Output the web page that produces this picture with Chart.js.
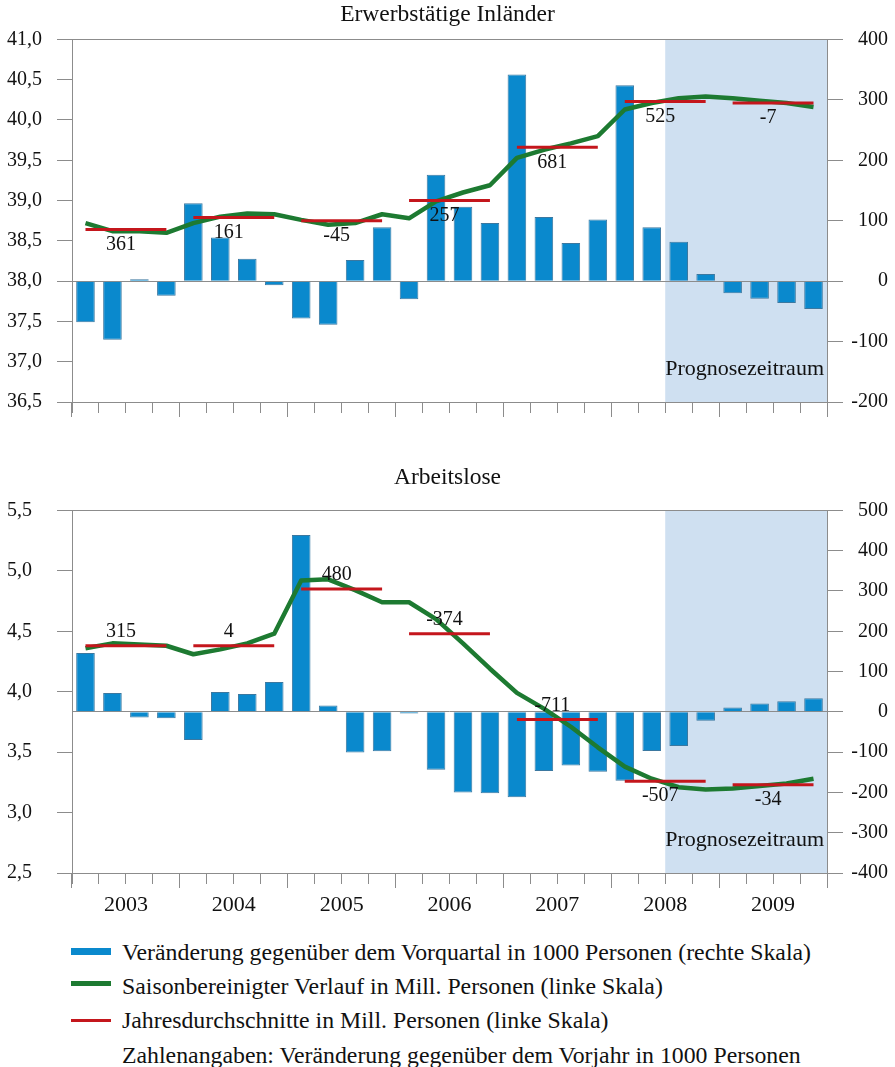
<!DOCTYPE html>
<html lang="de">
<head>
<meta charset="utf-8">
<title>Erwerbstätige und Arbeitslose</title>
<script src="https://cdn.jsdelivr.net/npm/chart.js@4.4.1/dist/chart.umd.min.js"></script>
<style>
  html, body { margin: 0; padding: 0; background: #fff; }
  #wrap { position: relative; width: 895px; height: 1067px; overflow: hidden;
          font-family: "Liberation Serif", "Times New Roman", serif; color: #111; }
  #empChart { position: absolute; left: 0; top: 0; }
  #unempChart { position: absolute; left: 0; top: 460px; }
  .row { position: absolute; left: 122px; font-size: 23.8px; line-height: 26px; white-space: nowrap; }
  .mark { position: absolute; left: 71px; width: 40px; }
</style>
</head>
<body>
<div id="wrap">
  <canvas id="empChart" width="895" height="440"></canvas>
  <canvas id="unempChart" width="895" height="460"></canvas>

  <div class="mark" style="top:948px;height:7px;background:#0a89cd"></div>
  <div class="row" style="top:939px">Veränderung gegenüber dem Vorquartal in 1000 Personen (rechte Skala)</div>
  <div class="mark" style="top:981px;height:5px;background:#1d7a31"></div>
  <div class="row" style="top:973px">Saisonbereinigter Verlauf in Mill. Personen (linke Skala)</div>
  <div class="mark" style="top:1019px;height:3px;background:#c4161c"></div>
  <div class="row" style="top:1007px">Jahresdurchschnitte in Mill. Personen (linke Skala)</div>
  <div class="row" style="top:1042px">Zahlenangaben: Veränderung gegenüber dem Vorjahr in 1000 Personen</div>
</div>
<script>
  // categories
  const years = ['2003', '2004', '2005', '2006', '2007', '2008', '2009']
  const quarters = years.flatMap((y) => ['I', 'II', 'III', 'IV'].map((q) => q + '/' + y))
  const forecastStart = 'III/2008'

  // Erwerbstätige Inländer
  const empChange = [-68, -97, 3, -24, 129, 72, 37, -7, -62, -72, 35, 89, -30, 176,
                     123, 96, 342, 106, 63, 102, 324, 89, 65, 12, -20, -29, -36, -46]
  const empTrend = [38.72, 38.62, 38.62, 38.60, 38.72, 38.80, 38.84, 38.83, 38.76, 38.70,
                    38.72, 38.83, 38.78, 38.99, 39.10, 39.19, 39.53, 39.63, 39.71, 39.80,
                    40.13, 40.21, 40.27, 40.29, 40.27, 40.24, 40.21, 40.16]
  const empAnnual = [38.64, 38.79, 38.75, 39.00, 39.66, 40.23, 40.21]
  const empYoY = [361, 161, -45, 257, 681, 525, -7]

  // Arbeitslose
  const unempChange = [146, 47, -14, -16, -70, 49, 44, 74, 439, 16, -101, -98, -4, -144,
                       -200, -202, -212, -147, -133, -149, -171, -97, -85, -22, 11, 21, 26, 34]
  const unempTrend = [4.36, 4.40, 4.39, 4.38, 4.31, 4.35, 4.40, 4.48, 4.92, 4.93,
                      4.84, 4.74, 4.74, 4.60, 4.40, 4.19, 3.99, 3.86, 3.71, 3.54,
                      3.38, 3.28, 3.21, 3.19, 3.20, 3.22, 3.24, 3.28]
  const unempAnnual = [4.38, 4.38, 4.85, 4.48, 3.77, 3.26, 3.23]
  const unempYoY = [315, 4, 480, -374, -711, -507, -34]

  const AXIS = '#8c8c8c'
  const BLUE = '#0a89cd'
  const GREEN = '#1d7a31'
  const RED = '#c4161c'
  const SERIF = '"Liberation Serif", "Times New Roman", serif'
  const NONE = 'rgba(0,0,0,0)'

  // annual value repeated on the four quarters of its year
  const perQuarter = (annual) => quarters.map((q, i) => annual[Math.floor(i / 4)])

  // shading of the forecast period, year-over-year labels
  const panelDecor = {
    id: 'panelDecor',
    beforeDraw(chart, args, opts) {
      const { ctx, chartArea, scales } = chart
      const x = scales.x
      const half = (x.getPixelForValue(1) - x.getPixelForValue(0)) / 2
      const x0 = x.getPixelForValue(quarters.indexOf(forecastStart)) - half
      ctx.save()
      ctx.fillStyle = '#cfe0f1'
      ctx.fillRect(x0, chartArea.top, chartArea.right - x0, chartArea.bottom - chartArea.top)
      ctx.restore()
    },
    afterDatasetsDraw(chart, args, opts) {
      const { ctx, chartArea, scales } = chart
      const x = scales.x, yL = scales.yL
      ctx.save()
      ctx.fillStyle = '#111'
      ctx.textBaseline = 'middle'
      ctx.font = '22px ' + SERIF
      ctx.textAlign = 'right'
      ctx.fillText('Prognosezeitraum', chartArea.right - 3, chartArea.bottom - 33)
      ctx.font = '20px ' + SERIF
      ctx.textAlign = 'center'
      opts.yoy.forEach((v, k) => {
        const cx = (x.getPixelForValue(4 * k + 1) + x.getPixelForValue(4 * k + 2)) / 2 - 5
        const cy = yL.getPixelForValue(opts.annual[k]) + (opts.below[k] ? 15 : -14)
        ctx.fillText(String(v), cx, cy)
      })
      ctx.restore()
    }
  }

  function makePanel(id, p) {
    const ctx = document.getElementById(id).getContext('2d')
    // eslint-disable-next-line no-undef
    return new Chart(ctx, {
      type: 'bar',
      data: {
        labels: quarters,
        datasets: [
          { type: 'line', label: 'Jahresdurchschnitte', data: perQuarter(p.annual), yAxisID: 'yL', xAxisID: 'x',
            borderColor: RED, borderWidth: 3, pointRadius: 0, tension: 0,
            segment: { borderColor: (c) => Math.floor(c.p0DataIndex / 4) !== Math.floor(c.p1DataIndex / 4) ? NONE : RED } },
          { type: 'line', label: 'Saisonbereinigter Verlauf', data: p.trend, yAxisID: 'yL', xAxisID: 'x',
            borderColor: GREEN, borderWidth: 4.5, pointRadius: 0, tension: 0, borderJoinStyle: 'round' },
          { type: 'bar', label: 'Veränderung gegenüber dem Vorquartal', data: p.change, yAxisID: 'yR', xAxisID: 'x',
            backgroundColor: BLUE, borderColor: '#3b78a0', borderWidth: 1,
            categoryPercentage: 1, barPercentage: 0.69 }
        ]
      },
      options: {
        responsive: false,
        maintainAspectRatio: false,
        animation: false,
        events: [],
        layout: { padding: { left: 7, right: 7, top: 0, bottom: 0 } },
        plugins: {
          legend: { display: false },
          tooltip: { enabled: false },
          title: { display: true, text: p.title, color: '#111', font: { family: SERIF, size: 23.5, weight: 'normal' },
                   padding: p.titlePad },
          panelDecor: { annual: p.annual, yoy: p.yoy, below: p.below }
        },
        scales: {
          x: {
            type: 'category', position: 'bottom', weight: 0, offset: true,
            grid: { offset: true, drawOnChartArea: false, tickLength: 11, color: AXIS, tickColor: AXIS },
            border: { display: true, color: AXIS },
            ticks: { display: false },
            afterFit: (s) => { s.height = 0 }
          },
          xYear: {
            type: 'category', position: 'bottom', weight: 1, offset: true, labels: years,
            grid: { offset: true, drawOnChartArea: false, tickLength: 15, color: AXIS, tickColor: AXIS },
            border: { display: false },
            ticks: { display: p.showYears, color: '#111', padding: 4, maxRotation: 0, autoSkip: false,
                     font: { family: SERIF, size: 22 } },
            afterFit: (s) => { s.height = p.xHeight }
          },
          yL: {
            position: 'left', min: p.lMin, max: p.lMax,
            ticks: { stepSize: 0.5, crossAlign: 'far', color: '#111', font: { family: SERIF, size: 20 },
                     callback: (v) => v.toFixed(1).replace('.', ',') },
            grid: { tickLength: 15, tickColor: AXIS,
                    color: (c) => c.tick && Math.abs(c.tick.value - p.lMax) < 1e-9 ? AXIS : NONE },
            border: { display: true, color: AXIS },
            afterFit: (s) => { s.width = 65 }
          },
          yR: {
            position: 'right', min: p.rMin, max: p.rMax,
            ticks: { stepSize: 100, crossAlign: 'far', color: '#111', font: { family: SERIF, size: 20 } },
            grid: { tickLength: 16, tickColor: AXIS,
                    color: (c) => c.tick && c.tick.value === 0 ? AXIS : NONE },
            border: { display: true, color: AXIS },
            afterFit: (s) => { s.width = 61 }
          }
        }
      },
      plugins: [panelDecor]
    })
  }

  makePanel('empChart', {
    title: 'Erwerbstätige Inländer', titlePad: { top: 1, bottom: 10.2 },
    change: empChange, trend: empTrend, annual: empAnnual, yoy: empYoY,
    below: [true, true, true, true, true, true, true],
    lMin: 36.5, lMax: 41, rMin: -200, rMax: 400, xHeight: 38, showYears: false
  })

  makePanel('unempChart', {
    title: 'Arbeitslose', titlePad: { top: 4, bottom: 18.2 },
    change: unempChange, trend: unempTrend, annual: unempAnnual, yoy: unempYoY,
    below: [false, false, false, false, false, true, true],
    lMin: 2.5, lMax: 5.5, rMin: -400, rMax: 500, xHeight: 47, showYears: true
  })
</script>
</body>
</html>
